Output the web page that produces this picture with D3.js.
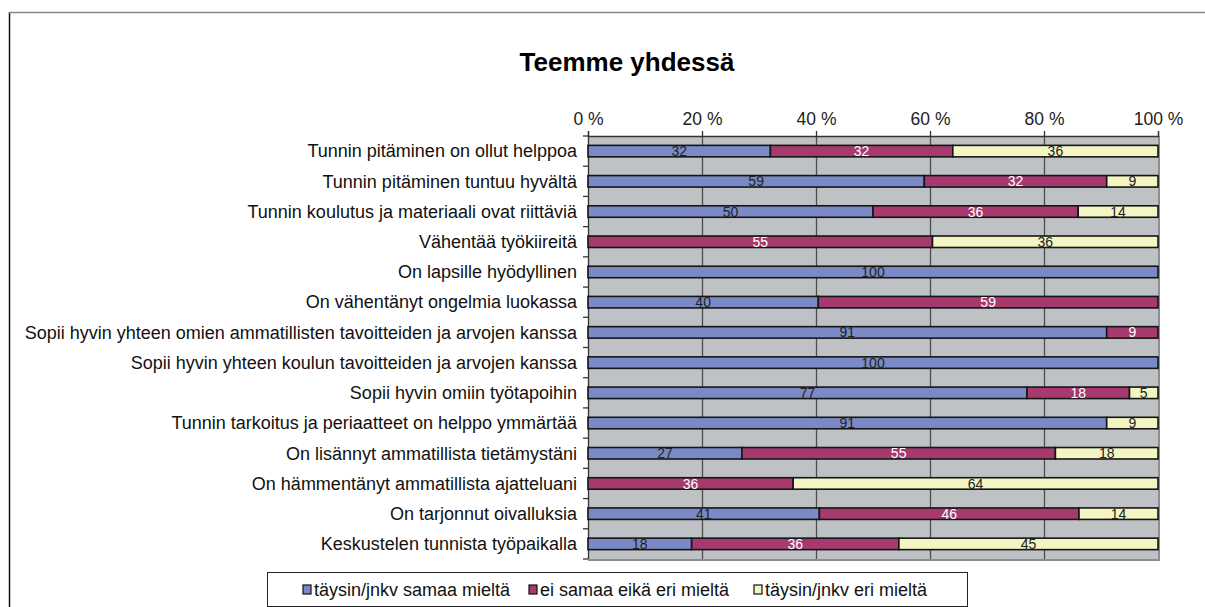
<!DOCTYPE html>
<html>
<head>
<meta charset="utf-8">
<script src="https://cdn.jsdelivr.net/npm/d3@7"></script>
<style>
  body { margin: 0; background: #fff; }
  svg { display: block; font-family: "Liberation Sans", Arial, sans-serif; }
</style>
</head>
<body>
<div id="chart"></div>
<script>
// data
var categories = [
  "Tunnin pitäminen on ollut helppoa",
  "Tunnin pitäminen tuntuu hyvältä",
  "Tunnin koulutus ja materiaali ovat riittäviä",
  "Vähentää työkiireitä",
  "On lapsille hyödyllinen",
  "On vähentänyt ongelmia luokassa",
  "Sopii hyvin yhteen omien ammatillisten tavoitteiden ja arvojen kanssa",
  "Sopii hyvin yhteen koulun tavoitteiden ja arvojen kanssa",
  "Sopii hyvin omiin työtapoihin",
  "Tunnin tarkoitus ja periaatteet on helppo ymmärtää",
  "On lisännyt ammatillista tietämystäni",
  "On hämmentänyt ammatillista ajatteluani",
  "On tarjonnut oivalluksia",
  "Keskustelen tunnista työpaikalla"
];
var agree    = [32, 59, 50, 0, 100, 40, 91, 100, 77, 91, 27, 0, 41, 18];
var neutral  = [32, 32, 36, 55, 0, 59, 9, 0, 18, 0, 55, 36, 46, 36];
var disagree = [36, 9, 14, 36, 0, 0, 0, 0, 5, 9, 18, 64, 14, 45];
var seriesNames = ["täysin/jnkv samaa mieltä", "ei samaa eikä eri mieltä", "täysin/jnkv eri mieltä"];
var tickValues = [0, 0.2, 0.4, 0.6, 0.8, 1];

var colors = ["#7b8ac6", "#a63a6e", "#f3f5c3"];
var labelColors = ["#222", "#fff", "#222"];

var W = 1205, H = 607;
var plot = {left: 588, right: 1158, top: 136, bottom: 559};

var svg = d3.select("#chart").append("svg")
    .attr("width", W)
    .attr("height", H);

// outer frame
svg.append("line").attr("x1", 9.5).attr("x2", 9.5).attr("y1", 12).attr("y2", H)
    .attr("stroke", "#111").attr("stroke-width", 1.5);
svg.append("line").attr("x1", 9).attr("x2", W).attr("y1", 12.5).attr("y2", 12.5)
    .attr("stroke", "#888").attr("stroke-width", 1.5);

// title
svg.append("text")
    .attr("x", 627).attr("y", 71)
    .attr("text-anchor", "middle")
    .style("font-size", "26px")
    .style("font-weight", "bold")
    .text("Teemme yhdessä");

var table = categories.map(function(c, i) {
  return {name: c, a: agree[i], b: neutral[i], c: disagree[i]};
});

var stack = d3.stack().keys(["a", "b", "c"]).offset(d3.stackOffsetExpand);
var layers = stack(table);

var x = d3.scaleLinear().domain([0, 1]).range([plot.left, plot.right]);
var y = d3.scaleBand().domain(categories).range([plot.top, plot.bottom])
    .paddingInner(0.62).paddingOuter(0.31);

// plot background
svg.append("rect")
    .attr("x", plot.left).attr("y", plot.top)
    .attr("width", plot.right - plot.left).attr("height", plot.bottom - plot.top)
    .attr("fill", "#bec2c4");

// gridlines
svg.append("g").selectAll("line")
    .data(tickValues.slice(1, -1))
  .enter().append("line")
    .attr("x1", function(d) { return Math.round(x(d)) + 0.5; })
    .attr("x2", function(d) { return Math.round(x(d)) + 0.5; })
    .attr("y1", plot.top).attr("y2", plot.bottom)
    .attr("stroke", "#4d4d4d").attr("stroke-width", 1.3);

// right / bottom shadow border
svg.append("path")
    .attr("d", "M" + (plot.right + 1) + "," + plot.top + "V" + (plot.bottom + 1) + "H" + plot.left)
    .attr("fill", "none").attr("stroke", "#8c8f92").attr("stroke-width", 2);

// top axis
var xAxis = svg.append("g")
    .attr("transform", "translate(0," + plot.top + ")")
    .call(d3.axisTop(x).tickValues(tickValues).tickSize(5).tickPadding(6)
      .tickFormat(function(d) { return Math.round(d * 100) + " %"; }));
xAxis.select(".domain").attr("stroke", "#333").attr("stroke-width", 1.3);
xAxis.selectAll(".tick line").attr("stroke", "#333").attr("stroke-width", 1.3);
xAxis.selectAll("text").style("font-size", "17.5px").attr("fill", "#222")
    .style("font-family", "'Liberation Sans', Arial, sans-serif");

// left axis line and ticks at band boundaries
svg.append("line")
    .attr("x1", plot.left + 0.5).attr("x2", plot.left + 0.5)
    .attr("y1", plot.top).attr("y2", plot.bottom)
    .attr("stroke", "#333").attr("stroke-width", 1.3);
var boundaries = d3.range(categories.length + 1).map(function(i) {
  return plot.top + i * y.step();
});
svg.append("g").selectAll("line")
    .data(boundaries)
  .enter().append("line")
    .attr("x1", plot.left - 5).attr("x2", plot.left)
    .attr("y1", function(d) { return d; }).attr("y2", function(d) { return d; })
    .attr("stroke", "#333").attr("stroke-width", 1.3);

// category labels
svg.append("g").selectAll("text")
    .data(categories)
  .enter().append("text")
    .attr("x", 577)
    .attr("y", function(d) { return y(d) + y.bandwidth() / 2; })
    .attr("dy", "0.35em")
    .attr("text-anchor", "end")
    .style("font-size", "18px")
    .attr("fill", "#111")
    .text(function(d) { return d; });

// bars
var groups = svg.append("g").selectAll("g")
    .data(layers)
  .enter().append("g")
    .attr("fill", function(d, i) { return colors[i]; });

groups.selectAll("rect")
    .data(function(d) { return d.filter(function(s) { return s[1] - s[0] > 0; }); })
  .enter().append("rect")
    .attr("x", function(d) { return x(d[0]); })
    .attr("y", function(d) { return y(d.data.name); })
    .attr("width", function(d) { return x(d[1]) - x(d[0]); })
    .attr("height", y.bandwidth())
    .attr("stroke", "#151515")
    .attr("stroke-width", 1.6);

// value labels
layers.forEach(function(layer, i) {
  svg.append("g").selectAll("text")
      .data(layer.filter(function(s) { return s[1] - s[0] > 0; }))
    .enter().append("text")
      .attr("x", function(d) { return (x(d[0]) + x(d[1])) / 2; })
      .attr("y", function(d) { return y(d.data.name) + y.bandwidth() / 2; })
      .attr("dy", "0.36em")
      .attr("text-anchor", "middle")
      .style("font-size", "14px")
      .attr("fill", labelColors[i])
      .text(function(d) { return d.data[layer.key]; });
});

// legend
var legend = svg.append("g");
legend.append("rect")
    .attr("x", 267.5).attr("y", 572.5)
    .attr("width", 700).attr("height", 34)
    .attr("fill", "#fff").attr("stroke", "#222").attr("stroke-width", 1);
var legendX = [303, 529, 754];
seriesNames.forEach(function(name, i) {
  legend.append("rect")
      .attr("x", legendX[i]).attr("y", 585)
      .attr("width", 8).attr("height", 9)
      .attr("fill", colors[i]).attr("stroke", "#111").attr("stroke-width", 1.2);
  legend.append("text")
      .attr("x", legendX[i] + 11).attr("y", 590)
      .attr("dy", "0.35em")
      .style("font-size", "18px")
      .attr("fill", "#111")
      .text(name);
});
</script>
</body>
</html>
